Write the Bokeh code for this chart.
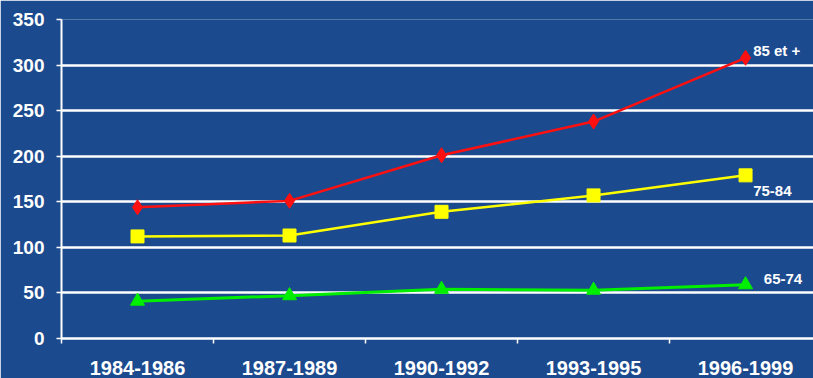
from bokeh.plotting import figure
from bokeh.models import FixedTicker, Range1d, ColumnDataSource
from bokeh.core.properties import value
from bokeh.embed import file_html
from bokeh.resources import INLINE

# Periods and rates by age group
periods = ["1984-1986", "1987-1989", "1990-1992", "1993-1995", "1996-1999"]
age_65_74 = [41, 47, 54, 53, 59]
age_75_84 = [112, 113, 139, 157, 179]
age_85_plus = [144, 151, 201, 238, 308]
group_names = ["65-74", "75-84", "85  et +"]
# label anchor (x in period index units, y in data units)
label_x = [4.12, 4.05, 4.05]
label_y = [65, 162, 316]

BG = "#1c4a8e"
FONT = "Liberation Sans"

xs = list(range(len(periods)))

p = figure(width=813, height=378, output_backend="svg", toolbar_location=None,
           x_range=Range1d(-0.5, 4.447), y_range=Range1d(0, 350),
           min_border_left=61, min_border_right=0, min_border_top=19, min_border_bottom=40)
p.background_fill_color = BG
p.border_fill_color = BG
p.outline_line_color = None

# grid
p.xgrid.grid_line_color = None
p.ygrid.ticker = FixedTicker(ticks=list(range(0, 351, 50)))
p.ygrid.grid_line_color = "white"
p.ygrid.grid_line_width = 2.5

# y axis
p.yaxis.ticker = FixedTicker(ticks=list(range(0, 351, 50)))
p.yaxis.axis_line_color = "white"
p.yaxis.axis_line_width = 2
p.yaxis.major_tick_line_color = "white"
p.yaxis.major_tick_line_width = 1.5
p.yaxis.major_tick_out = 5
p.yaxis.major_tick_in = 0
p.yaxis.minor_tick_line_color = None
p.yaxis.major_label_text_color = "white"
p.yaxis.major_label_text_font = FONT
p.yaxis.major_label_text_font_style = "bold"
p.yaxis.major_label_text_font_size = "19px"
p.yaxis.major_label_standoff = 12

# x axis: labels at period centres, ticks at boundaries
p.xaxis.ticker = FixedTicker(ticks=xs, minor_ticks=[i - 0.5 for i in range(len(periods) + 1)])
p.xaxis.major_label_overrides = {i: s for i, s in enumerate(periods)}
p.xaxis.axis_line_color = "white"
p.xaxis.axis_line_width = 2.5
p.xaxis.major_tick_line_color = None
p.xaxis.minor_tick_line_color = "white"
p.xaxis.minor_tick_line_width = 1.5
p.xaxis.minor_tick_out = 5
p.xaxis.minor_tick_in = 0
p.xaxis.major_label_text_color = "white"
p.xaxis.major_label_text_font = FONT
p.xaxis.major_label_text_font_style = "bold"
p.xaxis.major_label_text_font_size = "20px"
p.xaxis.major_label_standoff = 16

# series
p.line(xs, age_85_plus, line_color="#ff1010", line_width=2.5)
p.scatter(xs, age_85_plus, marker="diamond", size=15, fill_color="#ff1010", line_color="#ff1010")

p.line(xs, age_75_84, line_color="#ffff00", line_width=2.5)
p.scatter(xs, age_75_84, marker="square", size=13, fill_color="#ffff00", line_color="#ffff00")

p.line(xs, age_65_74, line_color="#00ee00", line_width=3)
p.scatter(xs, age_65_74, marker="triangle", size=14, fill_color="#00ee00", line_color="#00ee00")

# series labels
src = ColumnDataSource(dict(x=label_x, y=label_y, t=group_names))
p.text(x="x", y="y", text="t", source=src, text_color="white",
       text_font=value(FONT), text_font_style="bold", text_font_size="15px",
       text_baseline="middle", text_align="left")

open("out.html", "w").write(file_html(p, INLINE))
